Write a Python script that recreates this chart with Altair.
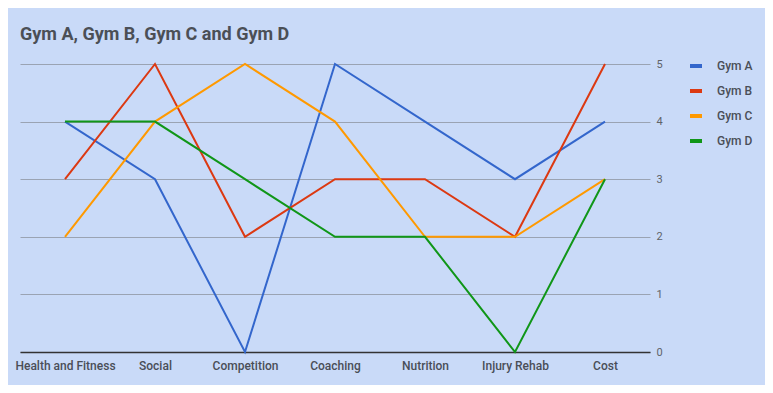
import altair as alt
import pandas as pd

categories = ["Health and Fitness", "Social", "Competition", "Coaching", "Nutrition", "Injury Rehab", "Cost"]
series = ["Gym A", "Gym B", "Gym C", "Gym D"]
gym_a = [4, 3, 0, 5, 4, 3, 4]
gym_b = [3, 5, 2, 3, 3, 2, 5]
gym_c = [2, 4, 5, 4, 2, 2, 3]
gym_d = [4, 4, 3, 2, 2, 0, 3]
colors = ["#3366cc", "#dc3912", "#ff9900", "#109618"]

rows = []
for name, vals in zip(series, [gym_a, gym_b, gym_c, gym_d]):
    for i, (c, v) in enumerate(zip(categories, vals)):
        rows.append({"Category": c, "Series": name, "Value": v, "order": i})
df = pd.DataFrame(rows)

chart = alt.Chart(df).mark_line(strokeWidth=2).encode(
    x=alt.X("Category:N", sort=categories, title=None,
            scale=alt.Scale(type="point", padding=0.5),
            axis=alt.Axis(labelAngle=0, domain=True, domainColor="#333333", domainWidth=1.5,
                          ticks=False, grid=False, labelFont="Roboto", labelFontSize=12,
                          labelFontWeight=500, labelColor="#4a4e57", labelPadding=8)),
    y=alt.Y("Value:Q", title=None, scale=alt.Scale(domain=[0, 5]),
            axis=alt.Axis(orient="right", values=[0, 1, 2, 3, 4, 5], domain=False, ticks=False,
                          grid=True, gridColor="#9aa3b3", gridWidth=1,
                          labelFont="Roboto", labelFontSize=11, labelColor="#5f6368",
                          labelPadding=6)),
    color=alt.Color("Series:N", sort=series,
                    scale=alt.Scale(domain=series, range=colors),
                    legend=alt.Legend(title=None, orient="none", legendX=668, legendY=-6,
                                      symbolType="stroke", symbolSize=144,
                                      symbolStrokeWidth=4,
                                      labelFont="Roboto", labelFontSize=12, labelFontWeight=500,
                                      labelColor="#4a4e57", labelOffset=13, rowPadding=9)),
    order="order:Q",
).properties(
    width=630, height=288,
    title=alt.TitleParams("Gym A, Gym B, Gym C and Gym D", anchor="start", frame="group",
                          font="Roboto", fontSize=18, fontWeight="bold", color="#4b4f56",
                          offset=14),
    background="#c9daf8",
    padding={"left": 12, "top": 56, "right": 115, "bottom": 33},
    autosize=alt.AutoSizeParams(type="none"),
).configure_view(stroke=None)

chart.save("out.html", embed_options={"renderer": "svg", "actions": False})
